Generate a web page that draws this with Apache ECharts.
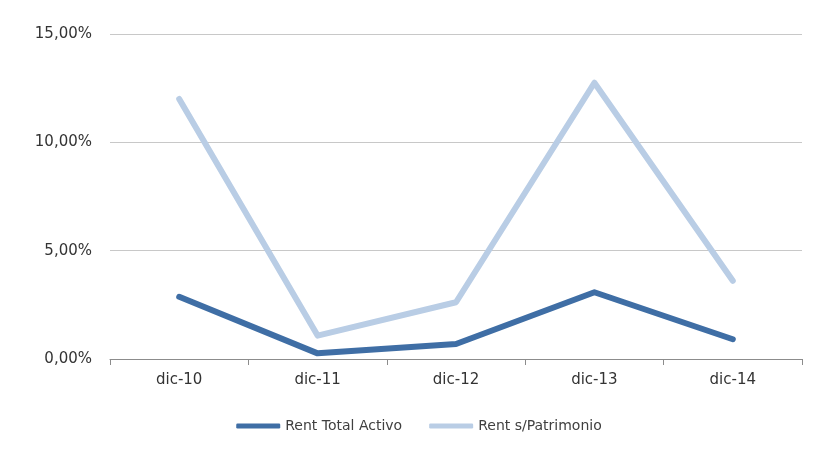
<!DOCTYPE html>
<html>
<head>
<meta charset="utf-8">
<script src="https://cdn.jsdelivr.net/npm/echarts@6/dist/echarts.min.js"></script>
<style>html,body{margin:0;padding:0;background:#fff;}#c{width:838px;height:459px;}</style>
</head>
<body>
<div id="c"></div>
<script>
var categories = ['dic-10', 'dic-11', 'dic-12', 'dic-13', 'dic-14'];
var rentTotalActivo = [2.87, 0.26, 0.69, 3.08, 0.91];
var rentPatrimonio = [12.0, 1.08, 2.62, 12.75, 3.61];
var seriesNames = ['Rent Total Activo', 'Rent s/Patrimonio'];

var chart = echarts.init(document.getElementById('c'));
var font = 'DejaVu Sans';
chart.setOption({
  animation: false,
  grid: { left: 110, right: 36, top: 34, bottom: 100, containLabel: false },
  legend: {
    data: seriesNames,
    bottom: 21,
    left: 'center',
    icon: 'roundRect',
    itemWidth: 44,
    itemHeight: 5,
    itemGap: 27,
    textStyle: { fontFamily: font, fontSize: 14, color: '#404040' }
  },
  xAxis: {
    type: 'category',
    data: categories,
    boundaryGap: true,
    axisLine: { lineStyle: { color: '#8c8c8c', width: 1 } },
    axisTick: { show: true, length: 6, lineStyle: { color: '#8c8c8c' } },
    axisLabel: { fontFamily: font, fontSize: 15, color: '#333333', margin: 14 },
    splitLine: { show: false }
  },
  yAxis: {
    type: 'value',
    min: 0, max: 15, interval: 5,
    axisLine: { show: false },
    axisTick: { show: false },
    axisLabel: {
      fontFamily: font, fontSize: 15, color: '#333333', margin: 18,
      formatter: function (v) { return v.toFixed(2).replace('.', ',') + '%'; }
    },
    splitLine: { lineStyle: { color: '#c8c8c8', width: 1 } }
  },
  series: [
    {
      name: seriesNames[0], type: 'line', data: rentTotalActivo,
      symbol: 'none', lineStyle: { color: '#3f6ea5', width: 6, cap: 'round', join: 'round' },
      itemStyle: { color: '#3f6ea5' }
    },
    {
      name: seriesNames[1], type: 'line', data: rentPatrimonio,
      symbol: 'none', lineStyle: { color: '#b9cde5', width: 6, cap: 'round', join: 'round' },
      itemStyle: { color: '#b9cde5' }
    }
  ]
});
</script>
</body>
</html>
